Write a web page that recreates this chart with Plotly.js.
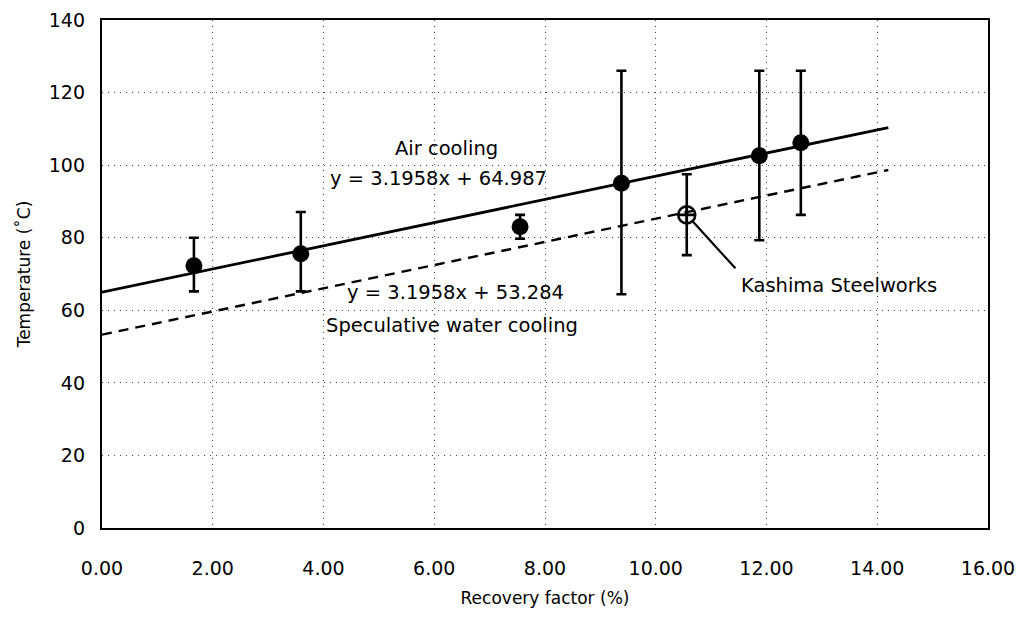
<!DOCTYPE html>
<html>
<head>
<meta charset="utf-8">
<script src="https://cdn.plot.ly/plotly-3.0.1.min.js"></script>
<style>html,body{margin:0;padding:0;background:#fff;}#chart{width:1017px;height:621px;}</style>
</head>
<body>
<div id="chart"></div>
<script>
// Air-cooled measurements (filled circles)
var airRecovery = [1.66, 3.59, 7.55, 9.38, 11.87, 12.62];
var airTemp     = [72.3, 75.6, 83.0, 95.0, 102.6, 106.2];
var airErrPlus  = [7.7, 11.5, 3.3, 31.0, 23.4, 19.8];
var airErrMinus = [7.1, 10.4, 3.3, 30.6, 23.3, 19.9];

// Kashima Steelworks (open circle)
var kashimaRecovery = [10.56];
var kashimaTemp     = [86.3];
var kashimaErrPlus  = [11.2];
var kashimaErrMinus = [11.1];

// Regression lines (end points)
var fitRecovery = [0, 14.2];
var airFitTemp   = [64.987, 110.37];
var waterFitTemp = [53.284, 98.67];

var xTicks = [0, 2, 4, 6, 8, 10, 12, 14, 16];
var xTickText = ['0.00','2.00','4.00','6.00','8.00','10.00','12.00','14.00','16.00'];
var yTicks = [0, 20, 40, 60, 80, 100, 120, 140];

var FONT = 'DejaVu Sans, Liberation Sans, Arial, sans-serif';

var traces = [
  {x: fitRecovery, y: airFitTemp, mode: 'lines', line: {color: '#000', width: 2.8}, hoverinfo: 'skip'},
  {x: fitRecovery, y: waterFitTemp, mode: 'lines', line: {color: '#000', width: 2.4, dash: '10px,7px'}, hoverinfo: 'skip'},
  {x: airRecovery, y: airTemp, mode: 'markers',
   marker: {color: '#000', size: 17, symbol: 'circle'},
   error_y: {type: 'data', symmetric: false, array: airErrPlus, arrayminus: airErrMinus,
             color: '#000', thickness: 2.6, width: 5}},
  {x: kashimaRecovery, y: kashimaTemp, mode: 'markers',
   marker: {color: '#000', size: 17, symbol: 'circle-cross-open', line: {color: '#000', width: 2.6}},
   error_y: {type: 'data', symmetric: false, array: kashimaErrPlus, arrayminus: kashimaErrMinus,
             color: '#000', thickness: 2.6, width: 5}}
];

var layout = {
  width: 1017, height: 621,
  margin: {l: 102, r: 29, t: 20, b: 93},
  paper_bgcolor: '#fff', plot_bgcolor: '#fff',
  showlegend: false,
  font: {family: FONT, color: '#000', size: 19},
  xaxis: {
    range: [0, 16], tickvals: xTicks, ticktext: xTickText,
    showgrid: true, gridcolor: '#444', gridwidth: 1, griddash: '1px,5px',
    showline: true, linecolor: '#000', linewidth: 2.2, mirror: true,
    ticks: '', ticklabelstandoff: 22, zeroline: false,
    tickfont: {family: FONT, size: 19, color: '#000'},
    title: {text: 'Recovery factor (%)', font: {family: FONT, size: 17, color: '#000'}, standoff: 14}
  },
  yaxis: {
    range: [0, 140], tickvals: yTicks,
    showgrid: true, gridcolor: '#444', gridwidth: 1, griddash: '1px,5px',
    showline: true, linecolor: '#000', linewidth: 2.2, mirror: true,
    ticks: '', ticklabelstandoff: 11, zeroline: false,
    tickfont: {family: FONT, size: 19, color: '#000'},
    title: {text: 'Temperature (˚C)', font: {family: FONT, size: 17, color: '#000'}, standoff: 14}
  },
  annotations: [
    {text: 'Air cooling', xref: 'x', yref: 'y', x: 6.22, y: 104.7, showarrow: false, font: {size: 19.5}},
    {text: 'y = 3.1958x + 64.987', xref: 'x', yref: 'y', x: 6.08, y: 96.4, showarrow: false, font: {size: 19.5}},
    {text: 'y = 3.1958x + 53.284', xref: 'x', yref: 'y', x: 6.39, y: 65.0, showarrow: false, font: {size: 19.5}},
    {text: 'Speculative water cooling', xref: 'x', yref: 'y', x: 6.32, y: 55.9, showarrow: false, font: {size: 19.5}},
    {text: 'Kashima Steelworks', xref: 'x', yref: 'y', x: 11.5, y: 66.7, xanchor: 'left', showarrow: false, font: {size: 19.5}},
    {text: '', x: 10.56, y: 86.3, xref: 'x', yref: 'y', showarrow: true, arrowhead: 0, arrowwidth: 2.2, arrowcolor: '#000', standoff: 9, ax: 50, ay: 55}
  ]
};

Plotly.newPlot('chart', traces, layout, {displayModeBar: false, staticPlot: true});
</script>
</body>
</html>
